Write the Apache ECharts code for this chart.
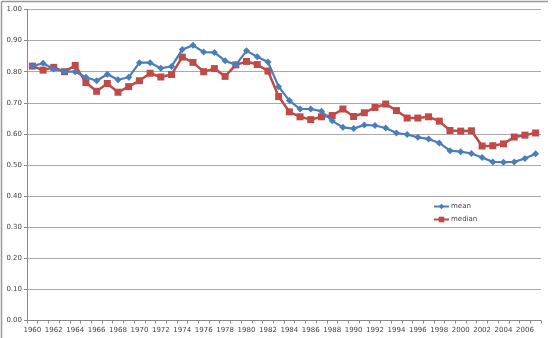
<!DOCTYPE html>
<html>
<head>
<meta charset="utf-8">
<script src="https://cdn.jsdelivr.net/npm/echarts@6/dist/echarts.min.js"></script>
<style>html,body{margin:0;padding:0;background:#fff}#c{width:552px;height:338px}</style>
</head>
<body>
<div id="c"></div>
<script>
var years = [];
for (var y = 1960; y <= 2007; y++) years.push(String(y));
var meanValues = [0.818,0.827,0.809,0.800,0.800,0.782,0.771,0.792,0.774,0.782,
  0.829,0.829,0.811,0.817,0.871,0.885,0.863,0.862,0.835,0.822,
  0.867,0.848,0.831,0.752,0.707,0.680,0.680,0.673,0.642,0.621,
  0.617,0.629,0.627,0.619,0.603,0.598,0.589,0.584,0.571,0.546,
  0.543,0.537,0.524,0.510,0.509,0.510,0.521,0.536];
var medianValues = [0.818,0.805,0.814,0.800,0.820,0.765,0.737,0.762,0.734,0.752,
  0.771,0.795,0.783,0.791,0.847,0.830,0.800,0.810,0.785,0.822,
  0.833,0.823,0.802,0.720,0.671,0.655,0.646,0.655,0.659,0.680,
  0.656,0.668,0.685,0.696,0.675,0.651,0.651,0.655,0.641,0.611,
  0.609,0.610,0.561,0.562,0.568,0.590,0.596,0.603];
var yTicks = {min: 0, max: 1, interval: 0.1};

var chart = echarts.init(document.getElementById('c'), null, {renderer: 'canvas'});
chart.setOption({
  animation: false,
  backgroundColor: '#fff',
  graphic: [
    {type: 'line', shape: {x1: 1.5, y1: 1.5, x2: 548, y2: 1.5}, style: {stroke: '#999', lineWidth: 1.5}},
    {type: 'line', shape: {x1: 1.5, y1: 1.5, x2: 1.5, y2: 338}, style: {stroke: '#999', lineWidth: 1.5}}
  ],
  grid: {left: 27, right: 11, top: 9.5, bottom: 17.5, containLabel: false},
  legend: {
    orient: 'vertical', left: 428, top: 198,
    itemWidth: 15, itemHeight: 7, itemGap: 6,
    textStyle: {fontSize: 7, color: '#444', fontFamily: 'DejaVu Sans', padding: [0,0,0,-3]},
    data: ['mean', 'median']
  },
  xAxis: {
    type: 'category', data: years, boundaryGap: true,
    axisLine: {lineStyle: {color: '#888', width: 1}},
    axisTick: {show: true, interval: 0, length: 3, lineStyle: {color: '#888'}},
    axisLabel: {interval: 1, fontSize: 7, color: '#444', margin: 6, fontFamily: 'DejaVu Sans'},
    splitLine: {show: false}
  },
  yAxis: {
    type: 'value', min: yTicks.min, max: yTicks.max, interval: yTicks.interval,
    axisLine: {show: true, lineStyle: {color: '#888', width: 1}},
    axisTick: {show: true, length: 3, lineStyle: {color: '#888'}},
    axisLabel: {fontSize: 7, color: '#444', margin: 5, fontFamily: 'DejaVu Sans',
      formatter: function (v) { return v.toFixed(2); }},
    splitLine: {show: true, lineStyle: {color: '#aaa', width: 1.2}}
  },
  series: [
    {name: 'mean', type: 'line', data: meanValues, symbol: 'diamond', symbolSize: 7,
      itemStyle: {color: '#4a7ebb'}, lineStyle: {color: '#4a7ebb', width: 2.2}, z: 3},
    {name: 'median', type: 'line', data: medianValues, symbol: 'rect', symbolSize: 7,
      itemStyle: {color: '#be4b48'}, lineStyle: {color: '#be4b48', width: 2.5}, z: 2}
  ]
});
</script>
</body>
</html>
